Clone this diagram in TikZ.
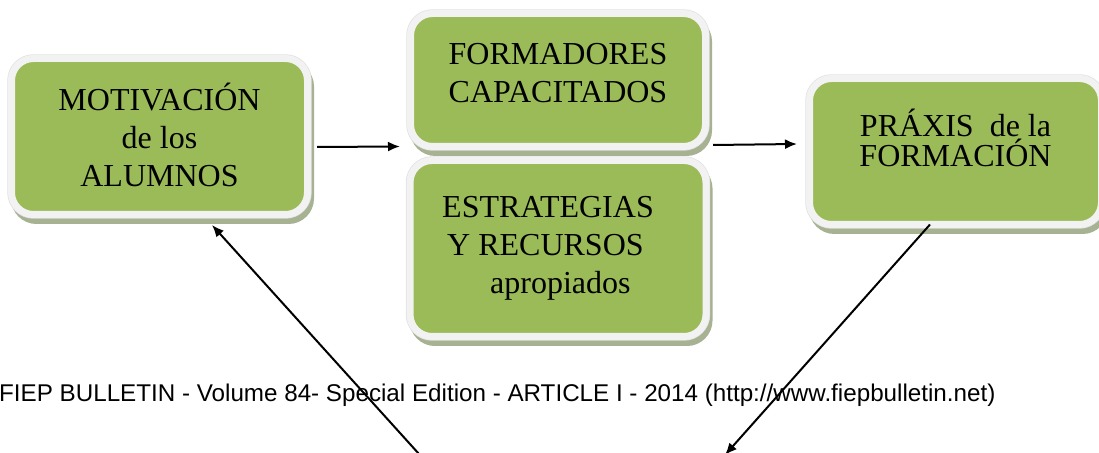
\documentclass[tikz,border=0pt]{standalone}
\usepackage{fontspec}
\setmainfont{Liberation Serif}
\newfontfamily\footerfont{Liberation Sans}
\usepackage{xcolor}
\usetikzlibrary{arrows.meta}

\definecolor{boxgreen}{RGB}{155,187,89}
\definecolor{rimgray}{RGB}{242,242,242}
\definecolor{shadegreen}{RGB}{166,178,146}

\begin{document}
\begin{tikzpicture}[x=1pt, y=1pt,
    stagebox/.style={draw=rimgray, line width=7pt, fill=boxgreen, rounded corners=22pt, outer sep=0pt,
      preaction={draw=shadegreen, fill=shadegreen, line width=7pt, transform canvas={shift={(3pt,-6pt)}}},
      preaction={draw=black!12, line width=8.4pt}},
    boxtext/.style={inner sep=0pt, align=center, font=\fontsize{32}{38}\selectfont},
    flow/.style={line width=2pt, -{Latex[length=12pt, width=10pt]}}]
    \useasboundingbox (0,0) rectangle (1099,452);

    % Boxes
    \node[stagebox, minimum width=296pt, minimum height=156pt] (motiv) at (159.5,315.5) {};
    \node[stagebox, minimum width=295pt, minimum height=133pt] (formad) at (558,372) {};
    \node[stagebox, minimum width=296pt, minimum height=176pt] (estrat) at (558,203.5) {};
    \node[stagebox, minimum width=292pt, minimum height=146pt] (praxis) at (955.5,300.5) {};

    % Box texts
    \node[boxtext] (motivtxt) at ([yshift=2pt]motiv.center) {MOTIVACIÓN\\de los\\ALUMNOS};
    \node[boxtext] (formadtxt) at ([yshift=7pt]formad.center) {FORMADORES\\CAPACITADOS};
    \node[boxtext, align=left, anchor=north west, font=\fontsize{32}{38}\selectfont] (estrattxt)
        at ([xshift=32pt,yshift=-36pt]estrat.north west) {ESTRATEGIAS\\\hspace*{5pt}Y RECURSOS\\\hspace*{48pt}apropiados};
    \node[boxtext, font=\fontsize{32}{30}\selectfont] (praxistxt) at ([yshift=14pt]praxis.center) {PRÁXIS\ \ de la\\FORMACIÓN};

    % Footer
    \node[anchor=base west, inner sep=0pt, font=\footerfont\fontsize{24.2}{28}\selectfont] (footer) at (-1,50)
        {FIEP BULLETIN - Volume 84- Special Edition - ARTICLE I - 2014 (http://www.fiepbulletin.net)};

    % Connectors
    \coordinate (loopin) at (419,-2);
    \coordinate (loopout) at (725,-3);
    \draw[flow] ([xshift=9.5pt,yshift=-10.5pt]motiv.east) -- ([xshift=-10.5pt]formad.south west);
    \draw[flow] ([xshift=7.5pt,yshift=1.5pt]formad.south east) -- ([xshift=-12.5pt,yshift=7.5pt]praxis.west);
    \draw[flow] (loopin) -- ([xshift=52.5pt,yshift=-10.5pt]motiv.south);
    \draw[flow] ([xshift=-25.5pt]praxis.south) -- (loopout);
\end{tikzpicture}
\end{document}
